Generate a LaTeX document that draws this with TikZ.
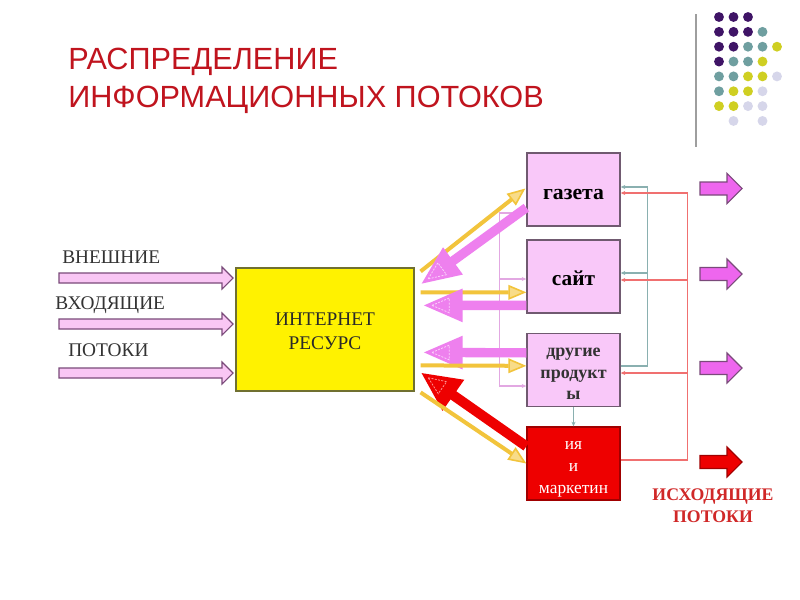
\documentclass[tikz,border=0pt]{standalone}
\usepackage{fontspec}
\setmainfont{Liberation Serif}
\newfontfamily\titlefont{Liberation Sans}
\usetikzlibrary{arrows.meta,calc}
\definecolor{titlered}{HTML}{C0141E}
\definecolor{dotp}{HTML}{3F1466}
\definecolor{dott}{HTML}{6F9FA0}
\definecolor{doty}{HTML}{CFCF22}
\definecolor{dotl}{HTML}{D6D6EA}
\definecolor{pinkl}{HTML}{F9C6F4}
\definecolor{purpd}{HTML}{7A4A7A}
\definecolor{boxpink}{HTML}{F9C8F9}
\definecolor{boxedge}{HTML}{705A70}
\definecolor{yedge}{HTML}{707030}
\definecolor{yel}{HTML}{F2C43C}
\definecolor{yell}{HTML}{F8DC88}
\definecolor{pinka}{HTML}{EE80EE}
\definecolor{pinkm}{HTML}{FAD0FA}
\definecolor{reda}{HTML}{EE0000}
\definecolor{redm}{HTML}{FF9090}
\definecolor{redd}{HTML}{A00000}
\definecolor{pthinc}{HTML}{E2A8E2}
\definecolor{tthinc}{HTML}{8AB0B0}
\definecolor{rthinc}{HTML}{F07070}
\definecolor{outpink}{HTML}{EE66EE}
\definecolor{outred}{HTML}{D02828}
\definecolor{txt}{HTML}{333333}
\tikzset{
  pbox/.style={draw=boxedge, fill=boxpink, line width=1pt, minimum width=69.75pt,
    minimum height=54.75pt, inner sep=0pt},
  btxt/.style={align=center, inner sep=0pt},
  yarr/.style={draw=yel, line width=3pt, -{Triangle[length=13.5pt,width=11pt,fill=yell,line width=1.2pt]}},
  parr/.style={draw=pinka, line width=7pt, -{Triangle[length=30pt,width=23pt]}},
  rarr/.style={draw=reda, line width=7.5pt, -{Triangle[length=30pt,width=26pt]}},
  pthin/.style={draw=pthinc, line width=0.8pt},
  tthin/.style={draw=tthinc, line width=0.9pt},
  rthin/.style={draw=rthinc, line width=0.9pt},
  sarr/.style={-{Stealth[length=3.5pt,width=3pt]}},
  lbl/.style={anchor=base west, inner sep=0pt, text=txt, font=\fontsize{14.5}{17}\selectfont}
}
% dashed inner triangle inside a big arrow head: #1 tip, #2 tail, #3 colour
\newcommand\headmark[3]{%
  \coordinate (hmc) at ($(#1)!20pt!(#2)$);
  \draw[#3, line width=0.6pt, dash pattern=on 1.5pt off 1pt]
    ($(#1)!7pt!(#2)$) -- ($(hmc)!5.5pt!90:(#2)$) -- ($(hmc)!5.5pt!-90:(#2)$) -- cycle;}
\begin{document}
\begin{tikzpicture}[x=0.75pt,y=-0.75pt]
\useasboundingbox[fill=white] (0,0) rectangle (800,600);

% title
\node[anchor=base west, inner sep=0pt, text=titlered, font=\titlefont\fontsize{23}{27}\selectfont] (t1) at (68,69) {РАСПРЕДЕЛЕНИЕ};
\node[anchor=base west, inner sep=0pt, text=titlered, font=\titlefont\fontsize{23}{27}\selectfont] (t2) at (68,107) {ИНФОРМАЦИОННЫХ ПОТОКОВ};

% divider and dots
\draw[color=black!38, line width=2pt] (696,14) -- (696,147);
\foreach \c/\r/\k in {0/0/dotp,1/0/dotp,2/0/dotp,
  0/1/dotp,1/1/dotp,2/1/dotp,3/1/dott,
  0/2/dotp,1/2/dotp,2/2/dott,3/2/dott,4/2/doty,
  0/3/dotp,1/3/dott,2/3/dott,3/3/doty,
  0/4/dott,1/4/dott,2/4/doty,3/4/doty,4/4/dotl,
  0/5/dott,1/5/doty,2/5/doty,3/5/dotl,
  0/6/doty,1/6/doty,2/6/dotl,3/6/dotl,
  1/7/dotl,3/7/dotl}
  \fill[\k] (719+14.5*\c, 17+14.85*\r) circle (3.7pt);

% left labels
\node[lbl] (l1) at (62,263) {ВНЕШНИЕ};
\node[lbl] (l2) at (55,309) {ВХОДЯЩИЕ};
\node[lbl] (l3) at (68,356) {ПОТОКИ};

% incoming arrows
\foreach \yy in {278,324,373}
  \filldraw[fill=pinkl, draw=purpd, line width=0.8pt]
    (59,\yy-5) -- (222,\yy-5) -- (222,\yy-11) -- (233,\yy) -- (222,\yy+11) -- (222,\yy+5) -- (59,\yy+5) -- cycle;

% main boxes
\node[draw=yedge, fill=yellow, line width=0.9pt, minimum width=133.5pt, minimum height=92.25pt] (yb) at (325,329.5) {};
\node[btxt, text=txt!80!black, font=\fontsize{14.5}{18}\selectfont] (ybt) at ($(yb)+(0,2)$) {ИНТЕРНЕТ\\РЕСУРС};
\node[pbox] (gz) at (573.5,189.5) {};
\node[btxt, font=\bfseries\fontsize{16.3}{18}\selectfont] (gzt) at ($(gz)+(0,4.5)$) {газета};
\node[pbox] (st) at (573.5,276.5) {};
\node[btxt, font=\bfseries\fontsize{16}{18}\selectfont] (stt) at ($(st)+(0,2)$) {сайт};
\node[pbox] (dp) at (573.5,370) {};
\node[btxt, text=txt, font=\bfseries\fontsize{13.5}{16.3}\selectfont] (dpt) at ($(dp)+(0,4)$) {другие\\продукт\\ы};
\node[pbox, fill=reda, draw=redd] (rm) at (573.5,463.5) {};
\node[btxt, text=white, font=\fontsize{13}{16.5}\selectfont] (rmt) at ($(rm)+(0,5.5)$) {ия\\и\\маркетин};

% thin connectors (pink, left)
\draw[pthin, sarr] ($(gz.west)+(0,23.5)$) -- ++(-27,0) |- ($(dp.west)+(0,16)$);
\draw[pthin, sarr] ($(st.west)+(-27,2.5)$) -- ($(st.west)+(0,2.5)$);
% thin connectors (teal)
\draw[tthin, sarr] ($(dp.east)+(0,-4)$) -- ++(27,0) |- ($(gz.east)+(0,-2.5)$);
\draw[tthin, sarr] ($(st.east)+(27,-3.5)$) -- ($(st.east)+(0,-3.5)$);
\draw[tthin, sarr] (dp.south) -- (rm.north);
% thin connectors (red)
\draw[rthin, sarr] ($(rm.east)+(0,-3.5)$) -- ++(67,0) |- ($(gz.east)+(0,3.5)$);
\draw[rthin, sarr] ($(st.east)+(67,3.5)$) -- ($(st.east)+(0,3.5)$);
\draw[rthin, sarr] ($(dp.east)+(67,3)$) -- ($(dp.east)+(0,3)$);

% end points of the flows
\coordinate (a1s) at ($(yb.north east)+(6,4)$);   \coordinate (a1e) at ($(gz.west)+(-1,-1)$);
\coordinate (a2s) at ($(gz.south west)+(0,-19)$); \coordinate (a2e) at ($(yb.north east)+(6,17)$);
\coordinate (a3s) at ($(yb.north east)+(6,25)$);  \coordinate (a3e) at ($(st.north west)+(0,53)$);
\coordinate (a4s) at ($(st.north west)+(0,66)$);  \coordinate (a4e) at ($(yb.north east)+(8,38)$);
\coordinate (a5s) at ($(dp.north west)+(0,20)$);  \coordinate (a5e) at ($(yb.north east)+(8,85)$);
\coordinate (a6s) at ($(yb.north east)+(6,98)$);  \coordinate (a6e) at ($(dp.north west)+(0,33)$);
\coordinate (a7s) at ($(rm.north west)+(0,20)$);  \coordinate (a7e) at ($(yb.north east)+(6,105)$);
\coordinate (a8s) at ($(yb.north east)+(6,125)$); \coordinate (a8e) at (rm.west);

% flows between resource and products
\draw[yarr] (a1s) -- (a1e);
\draw[parr] (a2s) -- (a2e);
\draw[yarr] (a3s) -- (a3e);
\draw[parr] (a4s) -- (a4e);
\draw[parr] (a5s) -- (a5e);
\draw[yarr] (a6s) -- (a6e);
\draw[rarr] (a7s) -- (a7e);
\draw[yarr] (a8s) -- (a8e);
\headmark{a2e}{a2s}{pinkm}
\headmark{a4e}{a4s}{pinkm}
\headmark{a5e}{a5s}{pinkm}
\headmark{a7e}{a7s}{redm}

% outgoing arrows
\foreach \yy/\fc/\dc in {188.5/outpink/purpd, 274/outpink/purpd, 368/outpink/purpd, 462/reda/redd}
  \filldraw[fill=\fc, draw=\dc, line width=0.8pt]
    (700,\yy-6.5) -- (727,\yy-6.5) -- (727,\yy-15) -- (742,\yy) -- (727,\yy+15) -- (727,\yy+6.5) -- (700,\yy+6.5) -- cycle;

\node[align=center, text=outred, font=\bfseries\fontsize{13.3}{16.5}\selectfont] (out) at (713,506) {ИСХОДЯЩИЕ\\ПОТОКИ};
\end{tikzpicture}
\end{document}
